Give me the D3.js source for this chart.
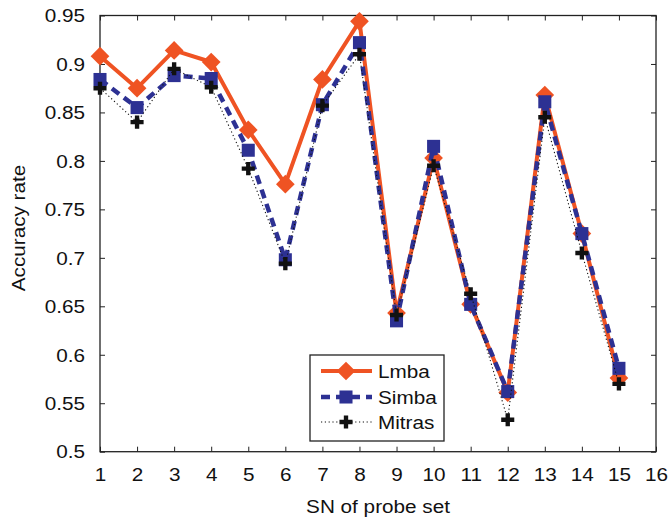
<!DOCTYPE html>
<html>
<head>
<meta charset="utf-8">
<script src="https://cdn.jsdelivr.net/npm/d3@7"></script>
<style>
  html, body { margin: 0; padding: 0; background: #fff; }
  svg { display: block; }
  text { font-family: "Liberation Sans", Arial, Helvetica, sans-serif; fill: #111; }
</style>
</head>
<body>
<svg id="chart" width="668" height="520"></svg>
<script>
// ---- data ----
const probeSets = [1, 2, 3, 4, 5, 6, 7, 8, 9, 10, 11, 12, 13, 14, 15];
const lmba   = [0.908, 0.875, 0.914, 0.902, 0.832, 0.776, 0.884, 0.944, 0.643, 0.803, 0.652, 0.561, 0.868, 0.725, 0.576];
const simba  = [0.884, 0.855, 0.888, 0.885, 0.811, 0.698, 0.858, 0.922, 0.635, 0.815, 0.652, 0.562, 0.861, 0.725, 0.586];
const mitras = [0.875, 0.840, 0.895, 0.876, 0.792, 0.694, 0.857, 0.910, 0.641, 0.795, 0.663, 0.533, 0.845, 0.705, 0.570];
const xTicks = [1, 2, 3, 4, 5, 6, 7, 8, 9, 10, 11, 12, 13, 14, 15, 16];
const yTicks = [0.5, 0.55, 0.6, 0.65, 0.7, 0.75, 0.8, 0.85, 0.9, 0.95];
const yTickLabels = ["0.5", "0.55", "0.6", "0.65", "0.7", "0.75", "0.8", "0.85", "0.9", "0.95"];
const seriesNames = ["Lmba", "Simba", "Mitras"];
const xTitle = "SN of probe set";
const yTitle = "Accuracy rate";

// ---- layout ----
const svg = d3.select("#chart");
const L = 100, R = 656, T = 15.5, B = 451.7;
const x = d3.scaleLinear().domain([1, 16]).range([L, R]);
const y = d3.scaleLinear().domain([0.5, 0.95]).range([B, T]);
const SX = 1.12; // font horizontal stretch
const FS = 18.5;

// axes
const gx = svg.append("g").attr("transform", `translate(0,${B})`)
  .call(d3.axisBottom(x).tickValues(xTicks).tickFormat(d3.format("d")).tickSizeInner(-5).tickSizeOuter(0).tickPadding(16));
const gy = svg.append("g").attr("transform", `translate(${L},0)`)
  .call(d3.axisLeft(y).tickValues(yTicks).tickFormat((d, i) => yTickLabels[i]).tickSizeInner(-5).tickSizeOuter(0));
const gt = svg.append("g").attr("transform", `translate(0,${T})`)
  .call(d3.axisTop(x).tickValues(xTicks).tickFormat("").tickSizeInner(-5).tickSizeOuter(0));
const gr = svg.append("g").attr("transform", `translate(${R},0)`)
  .call(d3.axisRight(y).tickValues(yTicks).tickFormat("").tickSizeInner(-5).tickSizeOuter(0));

[gx, gy, gt, gr].forEach(g => {
  g.select(".domain").remove();
  g.selectAll(".tick line").attr("stroke", "#222").attr("stroke-width", 1);
  g.selectAll("text").attr("font-size", FS).attr("fill", "#111")
    .attr("font-family", "'Liberation Sans', Arial, sans-serif");
});
gx.selectAll(".tick text").attr("transform", `scale(${SX},1)`);
gy.selectAll(".tick text").attr("x", 0).attr("dy", "0.34em")
  .attr("transform", `translate(-15,0) scale(${SX},1)`);

// frame
svg.append("rect").attr("x", L).attr("y", T).attr("width", R - L).attr("height", B - T)
  .attr("fill", "none").attr("stroke", "#222").attr("stroke-width", 1.3);

// axis titles
svg.append("text").attr("font-size", FS).attr("text-anchor", "middle")
  .attr("transform", `translate(${(L + R) / 2},513) scale(${SX},1)`).text(xTitle);
svg.append("text").attr("font-size", FS).attr("text-anchor", "middle")
  .attr("transform", `translate(25,228) rotate(-90) scale(${SX},1)`).text(yTitle);

// series
const orange = "#EF5323", blue = "#2D3193", black = "#111";
const styles = [
  { data: lmba, color: orange, width: 4, dash: null, symbol: d3.symbolSquare, size: 175, rotate: 45 },
  { data: simba, color: blue, width: 4.5, dash: "9,6", symbol: d3.symbolSquare, size: 170, rotate: 0 },
  { data: mitras, color: black, width: 1.1, dash: "1.2,2.6", symbol: d3.symbolCross, size: 95, rotate: 0 }
];
const line = d3.line().x((d, i) => x(probeSets[i])).y(d => y(d));

styles.forEach(s => {
  svg.append("path").datum(s.data).attr("d", line)
    .attr("fill", "none").attr("stroke", s.color).attr("stroke-width", s.width)
    .attr("stroke-dasharray", s.dash).attr("stroke-linejoin", "round");
  svg.append("g").selectAll("path").data(s.data).join("path")
    .attr("d", d3.symbol().type(s.symbol).size(s.size))
    .attr("transform", (d, i) => `translate(${x(probeSets[i])},${y(d)}) rotate(${s.rotate})`)
    .attr("fill", s.color);
});

// legend
const lg = svg.append("g");
lg.append("rect").attr("x", 310).attr("y", 355).attr("width", 134).attr("height", 86)
  .attr("fill", "#fff").attr("stroke", "#222").attr("stroke-width", 1.3);
const legY = [371, 397, 422];
styles.forEach((s, i) => {
  lg.append("line").attr("x1", 321).attr("x2", 372).attr("y1", legY[i]).attr("y2", legY[i])
    .attr("stroke", s.color).attr("stroke-width", s.width).attr("stroke-dasharray", s.dash);
  lg.append("path").attr("d", d3.symbol().type(s.symbol).size(s.size))
    .attr("transform", `translate(346,${legY[i]}) rotate(${s.rotate})`).attr("fill", s.color);
  lg.append("text").attr("font-size", FS)
    .attr("transform", `translate(378,${legY[i] + 6.5}) scale(${SX},1)`).text(seriesNames[i]);
});
</script>
</body>
</html>
